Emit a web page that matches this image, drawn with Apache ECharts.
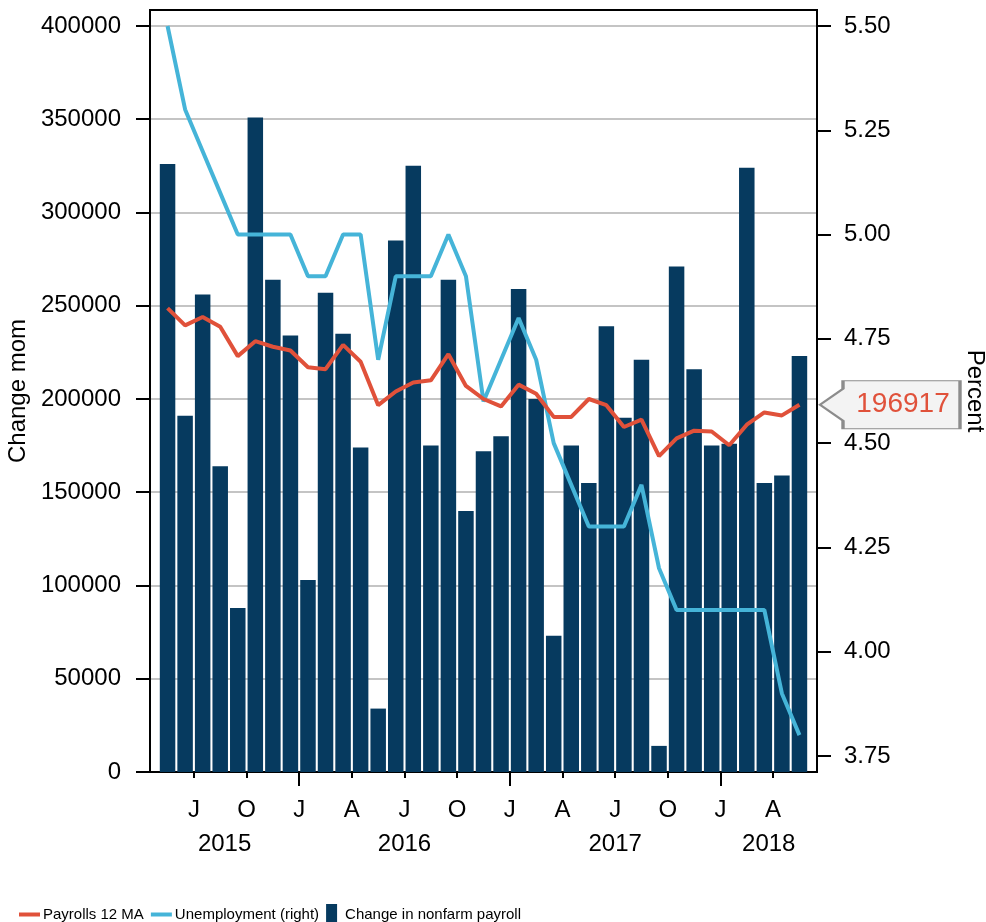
<!DOCTYPE html>
<html>
<head>
<meta charset="utf-8">
<script src="https://cdn.jsdelivr.net/npm/echarts@6/dist/echarts.min.js"></script>
<style>
html,body{margin:0;padding:0;background:#fff;}
#chart{width:986px;height:922px;}
</style>
</head>
<body>
<div id="chart"></div>
<script>
// Monthly data, May 2015 .. May 2018 (x = months since 1 May 2015, bar at mid-month)
const payrolls = [326000,191000,256000,164000,88000,351000,264000,234000,103000,257000,
  235000,174000,34000,285000,325000,175000,264000,140000,172000,180000,
  259000,200000,73000,175000,155000,239000,190000,221000,14000,271000,
  216000,175000,176000,324000,155000,159000,223000];
const payrollsMA = [248700,239500,244000,238700,223000,231000,228000,226000,217000,216000,
  229000,220000,196700,204000,208800,210000,224000,207000,200000,196000,
  207700,202800,190400,190400,200000,196700,185000,188900,169400,178900,
  183000,182600,175200,186200,192800,191200,196917];
const unemployment = [5.5,5.3,5.2,5.1,5.0,5.0,5.0,5.0,4.9,4.9,
  5.0,5.0,4.7,4.9,4.9,4.9,5.0,4.9,4.6,4.7,
  4.8,4.7,4.5,4.4,4.3,4.3,4.3,4.4,4.2,4.1,
  4.1,4.1,4.1,4.1,4.1,3.9,3.8];
const monthTicks = [2,5,8,11,14,17,20,23,26,29,32,35];
const monthTickLabels = ['J','O','J','A','J','O','J','A','J','O','J','A'];
const yearTicks = [8,20,32];
const yearLabelPos = [3.75,14,26,34.75];
const yearLabels = ['2015','2016','2017','2018'];
const leftTicks = [0,50000,100000,150000,200000,250000,300000,350000,400000];
const rightTicks = [3.75,4.00,4.25,4.50,4.75,5.00,5.25,5.50];

const xMin = -0.5, xMax = 37.5;
const FONT = 'Liberation Sans';
const lastMA = payrollsMA[payrollsMA.length - 1];

const barData = payrolls.map((v, i) => [i + 0.5, v]);
const maData = payrollsMA.map((v, i) => [i + 0.5, v]);
const urData = unemployment.map((v, i) => [i + 0.5, v]);

const chart = echarts.init(document.getElementById('chart'), null, {renderer: 'canvas'});
chart.setOption({
  backgroundColor: '#ffffff',
  animation: false,
  textStyle: {fontFamily: FONT},
  grid: {left: 150, right: 169, top: 10, bottom: 150, containLabel: false, outerBoundsMode: 'none',
    show: true, borderColor: '#000', borderWidth: 2, backgroundColor: 'transparent'},
  legend: {
    left: 14, top: 899,
    itemWidth: 21, itemHeight: 21, itemGap: 7,
    textStyle: {fontFamily: FONT, fontSize: 15, color: '#000', padding: [0, 0, 0, -2]},
    data: [
      {name: 'Payrolls 12 MA', icon: 'path://M0,0h21v4h-21z'},
      {name: 'Unemployment (right)', icon: 'path://M0,0h21v4h-21z'},
      {name: 'Change in nonfarm payroll', icon: 'path://M0,0h11v21h-11z'}
    ]
  },
  xAxis: [
    {
      type: 'value', min: xMin, max: xMax, position: 'bottom',
      axisLine: {show: true, onZero: false, lineStyle: {color: '#000', width: 2}},
      axisTick: {show: true, customValues: monthTicks, length: 6, lineStyle: {color: '#000', width: 2}},
      axisLabel: {
        customValues: monthTicks, margin: 26, fontSize: 24, color: '#000', fontFamily: FONT,
        formatter: v => monthTickLabels[monthTicks.indexOf(v)] || ''
      },
      splitLine: {show: false}
    },
    {
      type: 'value', min: xMin, max: xMax, position: 'bottom',
      axisLine: {show: false, onZero: false},
      axisTick: {show: true, customValues: yearTicks, length: 14, lineStyle: {color: '#000', width: 2}},
      axisLabel: {
        customValues: yearLabelPos, margin: 60, fontSize: 24, color: '#000', fontFamily: FONT,
        formatter: v => yearLabels[yearLabelPos.indexOf(v)] || ''
      },
      splitLine: {show: false}
    }
  ],
  yAxis: [
    {
      type: 'value', min: 0, max: 408579, interval: 50000, position: 'left',
      name: 'Change mom', nameLocation: 'middle', nameGap: 109, nameRotate: 90,
      nameTextStyle: {fontSize: 24, color: '#000', fontFamily: FONT},
      axisLine: {show: true, onZero: false, lineStyle: {color: '#000', width: 2}},
      axisTick: {show: true, customValues: leftTicks, length: 14, lineStyle: {color: '#000', width: 2}},
      axisLabel: {customValues: leftTicks, margin: 29, fontSize: 24, color: '#000', fontFamily: FONT,
        formatter: v => String(v)},
      splitLine: {show: true, lineStyle: {color: '#c4c4c4', width: 2}}
    },
    {
      type: 'value', min: 3.7116, max: 5.5384, position: 'right',
      name: 'Percent', nameLocation: 'middle', nameGap: 146, nameRotate: -90,
      nameTextStyle: {fontSize: 24, color: '#000', fontFamily: FONT},
      axisLine: {show: true, onZero: false, lineStyle: {color: '#000', width: 2}},
      axisTick: {show: true, customValues: rightTicks, length: 14, lineStyle: {color: '#000', width: 2}},
      axisLabel: {customValues: rightTicks, margin: 27, fontSize: 24, color: '#000', fontFamily: FONT,
        formatter: v => v.toFixed(2)},
      splitLine: {show: false}
    }
  ],
  series: [
    {
      name: 'Change in nonfarm payroll', type: 'bar', xAxisIndex: 0, yAxisIndex: 0,
      data: barData, barWidth: 15.5,
      itemStyle: {color: '#063a5f'}, z: 2
    },
    {
      name: 'Unemployment (right)', type: 'line', xAxisIndex: 0, yAxisIndex: 1,
      data: urData, symbol: 'none', lineStyle: {color: '#45b4d8', width: 4}, itemStyle: {color: '#45b4d8'}, z: 3
    },
    {
      name: 'Payrolls 12 MA', type: 'line', xAxisIndex: 0, yAxisIndex: 0,
      data: maData, symbol: 'none', lineStyle: {color: '#e0513a', width: 4}, itemStyle: {color: '#e0513a'}, z: 4,
      markPoint: {
        symbol: 'path://M0,24L23,8L23,0L140,0L140,48L23,48L23,40Z',
        symbolSize: [140, 48], symbolKeepAspect: false, symbolOffset: [73, 0],
        itemStyle: {color: '#f3f3f3', borderColor: '#8c8c8c', borderWidth: 2},
        label: {show: true, position: 'inside', offset: [13, 0], color: '#e0513a', fontSize: 28, fontFamily: FONT,
          formatter: () => String(lastMA)},
        data: [{coord: [xMax, lastMA], value: lastMA}]
      }
    }
  ]
});
</script>
</body>
</html>
